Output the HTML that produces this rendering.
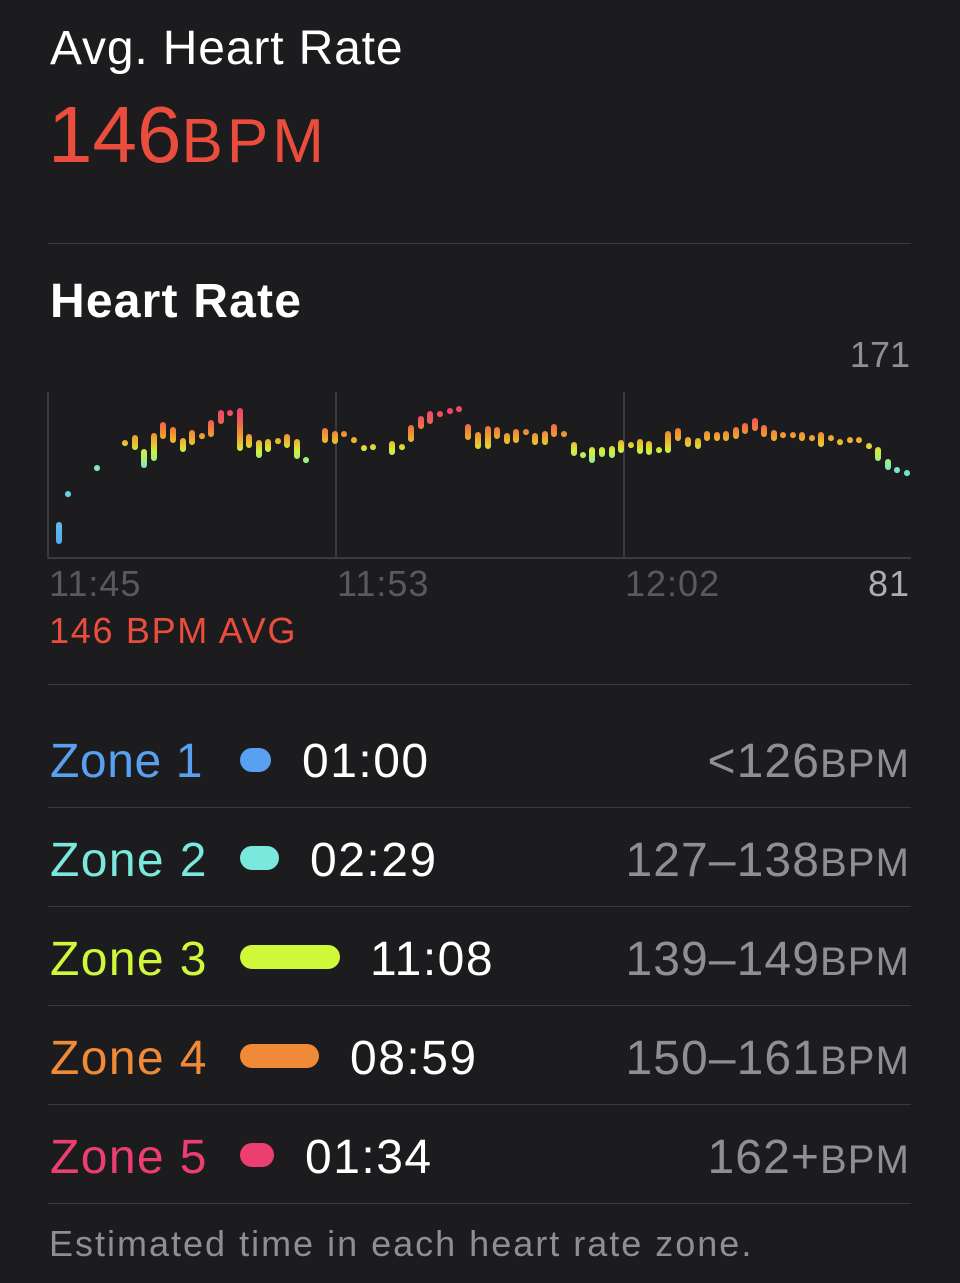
<!DOCTYPE html>
<html><head><meta charset="utf-8"><style>
html,body{margin:0;padding:0;background:#1c1c1e;}
body{width:960px;height:1283px;overflow:hidden;}
svg{display:block;font-family:"Liberation Sans",sans-serif;}
</style></head><body>
<svg width="960" height="1283" viewBox="0 0 960 1283" xmlns="http://www.w3.org/2000/svg">
<defs>
<linearGradient id="g" gradientUnits="userSpaceOnUse" x1="0" y1="405" x2="0" y2="545">
<stop offset="0" stop-color="#f03c74"/>
<stop offset="0.11" stop-color="#f05a5a"/>
<stop offset="0.18" stop-color="#f08236"/>
<stop offset="0.26" stop-color="#eab830"/>
<stop offset="0.33" stop-color="#cff040"/>
<stop offset="0.42" stop-color="#90eca0"/>
<stop offset="0.5" stop-color="#70e0dc"/>
<stop offset="0.75" stop-color="#66c4ea"/>
<stop offset="1" stop-color="#58a6f0"/>
</linearGradient>
</defs>
<text x="50" y="64" font-size="48" fill="#ffffff" letter-spacing="0.85">Avg. Heart Rate</text>
<text x="48" y="162" fill="#eb4d3d"><tspan font-size="80">146</tspan><tspan font-size="62" letter-spacing="4">BPM</tspan></text>
<rect x="48" y="243" width="863" height="1" fill="#3a3a3c"/>
<text x="50" y="317" font-size="48" font-weight="bold" fill="#ffffff" letter-spacing="1.2">Heart Rate</text>
<text x="910" y="367" font-size="36" fill="#8e8e93" text-anchor="end">171</text>
<g fill="#3a3a3c">
<rect x="47" y="392" width="2" height="166"/>
<rect x="335" y="392" width="2" height="166"/>
<rect x="623" y="392" width="2" height="166"/>
<rect x="47" y="557" width="864" height="2"/>
</g>
<g stroke="url(#g)" stroke-width="6" stroke-linecap="round" fill="none">
<path d="M59 525V541 M68 494v.1 M97 468v.1 M125 443v.1 M135 438V447 M144 452V465 M154 436V458 M163 425V436 M173 430V440 M183 441V449 M192 433V442 M202 436v.1 M211 423V434 M221 413V421 M230 413v.1 M240 411V448 M249 437V445 M259 443V455 M268 442V449 M278 441v.1 M287 437V445 M297 442V456 M306 460v.1 M325 431V440 M335 434V441 M344 434v.1 M354 440v.1 M364 448v.1 M373 447v.1 M392 444V452 M402 447v.1 M411 428V439 M421 419V426 M430 414V421 M440 414v.1 M450 411v.1 M459 409v.1 M468 427V437 M478 435V446 M488 429V446 M497 430V436 M507 436V441 M516 432V440 M526 432v.1 M535 436V442 M545 434V442 M554 427V434 M564 434v.1 M574 445V453 M583 455v.1 M592 450V460 M602 450V454 M612 449V455 M621 443V450 M631 445v.1 M640 442V451 M649 444V452 M659 450v.1 M668 434V450 M678 431V438 M688 440V444 M698 441V446 M707 434V438 M717 435V438 M726 434V438 M736 430V436 M745 426V431 M755 421V428 M764 428V434 M774 433V438 M783 435v.1 M793 435v.1 M802 435V438 M812 438v.1 M821 435V444 M831 438v.1 M840 442v.1 M850 440v.1 M859 440v.1 M869 446v.1 M878 450V458 M888 462V467 M897 470v.1 M907 473v.1"/>
</g>
<g font-size="36" letter-spacing="1">
<text x="49" y="596" fill="#5a5a5e">11:45</text>
<text x="337" y="596" fill="#5a5a5e">11:53</text>
<text x="625" y="596" fill="#5a5a5e">12:02</text>
<text x="910" y="596" fill="#aeaeb2" text-anchor="end">81</text>
<text x="49" y="643" fill="#eb4d3d" letter-spacing="1.7">146 BPM AVG</text>
</g>
<rect x="48" y="684" width="863" height="1" fill="#3a3a3c"/>
<g font-size="48" letter-spacing="0.6">
<text x="50" y="777" fill="#5aa0f0">Zone 1</text>
<text x="50" y="876" fill="#7ae8dc" letter-spacing="1.4">Zone 2</text>
<text x="50" y="975" fill="#d0f83a" letter-spacing="1.4">Zone 3</text>
<text x="50" y="1074" fill="#f08a36" letter-spacing="1.4">Zone 4</text>
<text x="50" y="1173" fill="#ec3f70" letter-spacing="1.4">Zone 5</text>
</g>
<g font-size="48" letter-spacing="1.5" fill="#fff">
<text x="302" y="777">01:00</text>
<text x="310" y="876">02:29</text>
<text x="370" y="975">11:08</text>
<text x="350" y="1074">08:59</text>
<text x="305" y="1173">01:34</text>
</g>
<rect x="240" y="748" width="31" height="24" rx="12" fill="#5aa0f0"/>
<rect x="240" y="846" width="39" height="24" rx="12" fill="#7ae8dc"/>
<rect x="240" y="945" width="100" height="24" rx="12" fill="#d0f83a"/>
<rect x="240" y="1044" width="79" height="24" rx="12" fill="#f08a36"/>
<rect x="240" y="1143" width="34" height="24" rx="12" fill="#ec3f70"/>
<g fill="#8e8e93" text-anchor="end" letter-spacing="1.1">
<text x="910" y="777"><tspan font-size="48">&lt;126</tspan><tspan font-size="40">BPM</tspan></text>
<text x="910" y="876"><tspan font-size="48">127–138</tspan><tspan font-size="40">BPM</tspan></text>
<text x="910" y="975"><tspan font-size="48">139–149</tspan><tspan font-size="40">BPM</tspan></text>
<text x="910" y="1074"><tspan font-size="48">150–161</tspan><tspan font-size="40">BPM</tspan></text>
<text x="910" y="1173"><tspan font-size="48">162+</tspan><tspan font-size="40">BPM</tspan></text>
</g>
<g fill="#3a3a3c">
<rect x="48" y="807" width="863" height="1"/>
<rect x="48" y="906" width="863" height="1"/>
<rect x="48" y="1005" width="863" height="1"/>
<rect x="48" y="1104" width="863" height="1"/>
<rect x="48" y="1203" width="863" height="1"/>
</g>
<text x="49" y="1256" font-size="36" fill="#8e8e93" letter-spacing="2">Estimated time in each heart rate zone.</text>
</svg>
</body></html>
